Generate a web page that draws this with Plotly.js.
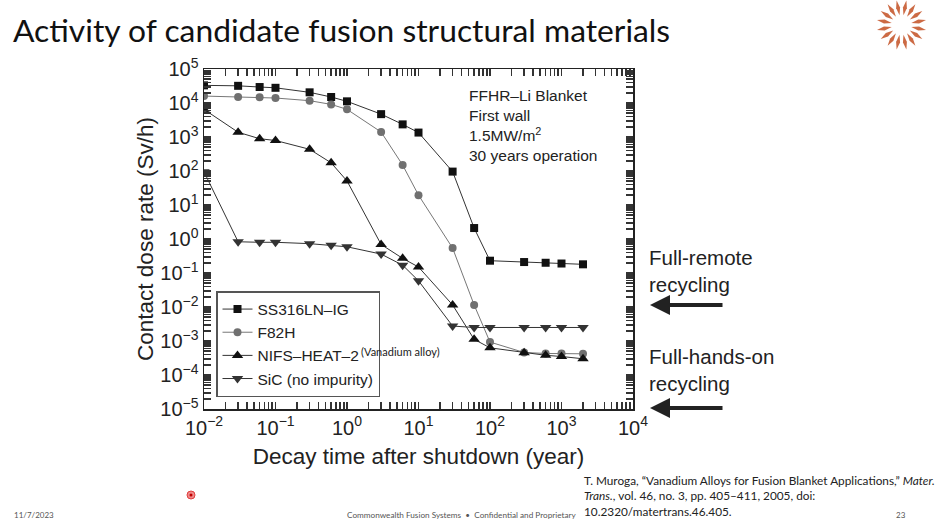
<!DOCTYPE html>
<html><head><meta charset="utf-8">
<script src="https://cdn.plot.ly/plotly-3.0.1.min.js"></script>
<style>html,body{margin:0;padding:0;background:#fff;}#chart{width:938px;height:524px;}</style>
</head><body><div id="chart"></div>
<script>
// Decay time after shutdown (year)
const decayTime = [0.01, 0.03, 0.06, 0.1, 0.3, 0.6, 1, 3, 6, 10, 30, 60, 100, 300, 600, 1000, 2000];
// Contact dose rate (Sv/h)
const ss316 = [3.3e4, 3.2e4, 2.95e4, 2.8e4, 2.06e4, 1.5e4, 1.12e4, 4.7e3, 2.35e3, 1.35e3, 96, 2.1, 0.23, 0.21, 0.20, 0.19, 0.18];
const f82h  = [1.6e4, 1.5e4, 1.48e4, 1.4e4, 1.17e4, 9.1e3, 6.5e3, 1.4e3, 150, 19.5, 0.54, 0.0115, 9.3e-4, 4.6e-4, 4.3e-4, 4.3e-4, 4.2e-4];
const nifs  = [6.5e3, 1.38e3, 890, 790, 435, 174, 51, 0.69, 0.27, 0.15, 0.0115, 1.12e-3, 6.3e-4, 4.5e-4, 3.8e-4, 3.5e-4, 3.0e-4];
const sic   = [95, 0.83, 0.8, 0.8, 0.73, 0.66, 0.59, 0.36, 0.17, 0.059, 2.75e-3, 2.5e-3, 2.5e-3, 2.5e-3, 2.5e-3, 2.5e-3, 2.5e-3];
const seriesNames = ['SS316LN\u2013IG', 'F82H', 'NIFS\u2013HEAT\u20132', 'SiC (no impurity)'];
const seriesSymbols = ['square', 'circle', 'triangle-up', 'triangle-down'];
const seriesColors = ['#111', '#707070', '#111', '#333'];
const seriesData = [ss316, f82h, nifs, sic];
// tick labels
const xTickVals = [1e-2, 1e-1, 1, 10, 100, 1e3, 1e4];
const xTickText = ['10<sup>\u22122</sup>', '10<sup>\u22121</sup>', '10<sup>0</sup>', '10<sup>1</sup>', '10<sup>2</sup>', '10<sup>3</sup>', '10<sup>4</sup>'];
const yTickVals = [1e-5, 1e-4, 1e-3, 1e-2, 1e-1, 1, 10, 100, 1e3, 1e4, 1e5];
const yTickText = ['10<sup>\u22125</sup>', '10<sup>\u22124</sup>', '10<sup>\u22123</sup>', '10<sup>\u22122</sup>', '10<sup>\u22121</sup>', '10<sup>0</sup>', '10<sup>1</sup>', '10<sup>2</sup>', '10<sup>3</sup>', '10<sup>4</sup>', '10<sup>5</sup>'];

// major + unlabeled minor ticks (2..9 within each decade)
const withMinor = (vals, labels) => {
  const v = vals.slice(), t = labels.slice();
  for (let i = 0; i < vals.length - 1; i++) for (let m = 2; m <= 9; m++) { v.push(vals[i] * m); t.push(''); }
  return {v, t};
};
const xt = withMinor(xTickVals, xTickText);
const yt = withMinor(yTickVals, yTickText);

const W = 938, H = 524;
const L = 204, R = 633, T = 69, B = 409;
const px = x => (x - L) / (R - L);
const py = y => (B - y) / (B - T);

const traces = seriesData.map((ys, i) => ({
  x: decayTime, y: ys, type: 'scatter', mode: 'lines+markers', name: seriesNames[i],
  line: {color: i === 1 ? '#777' : '#333', width: 1},
  marker: {symbol: seriesSymbols[i], size: i >= 2 ? 10 : 8, color: seriesColors[i]}
}));

const chartFont = 'Liberation Sans, Arial, sans-serif';
const slideFont = 'Lato, Open Sans, sans-serif';

const annotations = [
  {xref:'paper', yref:'paper', x:px(467), y:py(85), xanchor:'left', yanchor:'top', align:'left', showarrow:false,
   text:'FFHR\u2013Li Blanket<br>First wall<br>1.5MW/m<sup>2</sup><br>30 years operation',
   font:{family:chartFont, size:15.5, color:'#222'}},
  {xref:'paper', yref:'paper', x:px(359), y:py(351), xanchor:'left', yanchor:'middle', showarrow:false,
   text:'(Vanadium alloy)', font:{family:slideFont, size:11, color:'#222'}},
  {xref:'paper', yref:'paper', x:px(647), y:py(271), xanchor:'left', yanchor:'middle', align:'left', showarrow:false,
   text:'Full-remote<br>recycling', font:{family:chartFont, size:20.5, color:'#222'}},
  {xref:'paper', yref:'paper', x:px(647), y:py(370), xanchor:'left', yanchor:'middle', align:'left', showarrow:false,
   text:'Full-hands-on<br>recycling', font:{family:chartFont, size:20.5, color:'#222'}},
  {xref:'paper', yref:'paper', x:px(650), y:py(305), ax:74, ay:0, axref:'pixel', ayref:'pixel', text:'', showarrow:true,
   arrowhead:2, arrowsize:1, arrowwidth:4, arrowcolor:'#222', standoff:0},
  {xref:'paper', yref:'paper', x:px(650), y:py(408), ax:74, ay:0, axref:'pixel', ayref:'pixel', text:'', showarrow:true,
   arrowhead:2, arrowsize:1, arrowwidth:4, arrowcolor:'#222', standoff:0},
  // slide title
  {xref:'paper', yref:'paper', x:px(11), y:py(30), xanchor:'left', yanchor:'middle', showarrow:false,
   text:'Activity of candidate fusion structural materials', font:{family:slideFont, size:31.8, color:'#111'}},
  // citation
  {xref:'paper', yref:'paper', x:px(582), y:py(471), xanchor:'left', yanchor:'top', align:'left', showarrow:false,
   text:'T. Muroga, \u201cVanadium Alloys for Fusion Blanket Applications,\u201d <i>Mater.</i><br><i>Trans.</i>, vol. 46, no. 3, pp. 405\u2013411, 2005, doi:<br>10.2320/matertrans.46.405.',
   font:{family:slideFont, size:11.8, color:'#222'}},
  // footer
  {xref:'paper', yref:'paper', x:px(12), y:py(515), xanchor:'left', yanchor:'middle', showarrow:false,
   text:'11/7/2023', font:{family:slideFont, size:8, color:'#555'}},
  {xref:'paper', yref:'paper', x:px(461), y:py(515), xanchor:'center', yanchor:'middle', showarrow:false,
   text:'Commonwealth Fusion Systems  \u2022  Confidential and Proprietary', font:{family:slideFont, size:8.2, color:'#555'}},
  {xref:'paper', yref:'paper', x:px(901), y:py(515), xanchor:'center', yanchor:'middle', showarrow:false,
   text:'23', font:{family:slideFont, size:8, color:'#555'}}
];

// logo sunburst (decoration)
const shapes = [];
const cx = 901.5, cy = 25;
for (let k = 0; k < 16; k++) {
  const a = k * Math.PI / 8 + Math.PI / 16;
  const r1 = 10, r2 = 25, w = 2;
  const ca = Math.cos(a), sa = Math.sin(a);
  const p = (r, t) => [cx + r * ca - t * sa, cy + r * sa + t * ca];
  const pts = [p(r1, 0), p((r1 + r2) / 2, w), p(r2, 0), p((r1 + r2) / 2, -w)];
  const path = 'M' + pts.map(q => px(q[0]) + ',' + py(q[1])).join(' L') + ' Z';
  shapes.push({type:'path', xref:'paper', yref:'paper', path, fillcolor:'#cc6a44', line:{width:0}});
}
// pointer dot (decoration)
shapes.push({type:'circle', xref:'paper', yref:'paper', x0:px(187), x1:px(195), y0:py(499), y1:py(491),
  fillcolor:'#f08a8a', line:{color:'#e04040', width:1}});
shapes.push({type:'circle', xref:'paper', yref:'paper', x0:px(189.5), x1:px(192.5), y0:py(496.5), y1:py(493.5),
  fillcolor:'#c00000', line:{width:0}});

const axisCommon = {
  type:'log', showline:true, linecolor:'#222', linewidth:1.5, mirror:'allticks',
  ticks:'inside', ticklen:7, tickwidth:1.7, tickcolor:'#333', showgrid:false, zeroline:false,
  tickmode:'array',
  tickfont:{family:chartFont, size:20, color:'#222'}
};

const layout = {
  width:W, height:H, margin:{l:L, r:W-R, t:T, b:H-B}, paper_bgcolor:'#fff', plot_bgcolor:'#fff',
  showlegend:true,
  legend:{x:px(216), y:py(291), xanchor:'left', yanchor:'top', bgcolor:'#fff', bordercolor:'#555', borderwidth:1.5,
    font:{family:chartFont, size:15.5, color:'#222'}, tracegroupgap:0, itemwidth:30},
  xaxis:Object.assign({}, axisCommon, {range:[-2, 4], tickvals:xt.v, ticktext:xt.t,
    title:{text:'Decay time after shutdown (year)', font:{family:chartFont, size:22.5, color:'#222'}, standoff:10}}),
  yaxis:Object.assign({}, axisCommon, {range:[-5, 5], tickvals:yt.v, ticktext:yt.t,
    title:{text:'Contact dose rate (Sv/h)', font:{family:chartFont, size:22.5, color:'#222'}, standoff:0}}),
  annotations, shapes
};

Plotly.newPlot('chart', traces, layout, {displayModeBar:false, staticPlot:true});
</script>
</body></html>
